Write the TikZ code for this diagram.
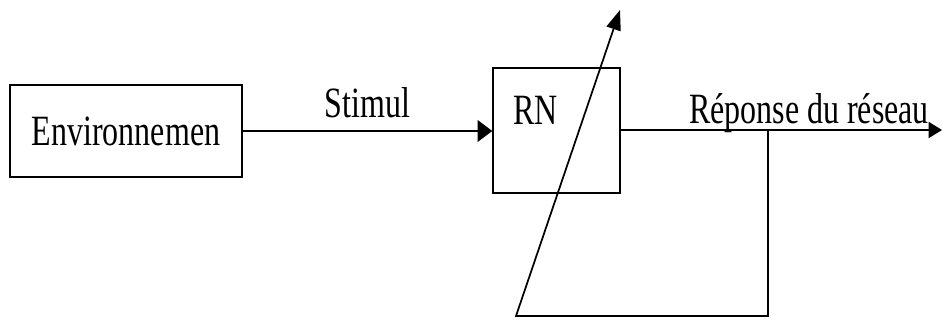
\documentclass[tikz,border=0pt]{standalone}
\usepackage{fontspec}
\setmainfont{Liberation Serif}
\usetikzlibrary{positioning, calc, arrows.meta}
\newcommand{\tallbox}[1]{\scalebox{1}[1.35]{#1}}
\tikzset{
  block/.style={draw, line width=1.3pt, inner sep=0pt},
  lbl/.style={font=\fontsize{24}{28}\selectfont, inner sep=0pt},
  flow/.style={line width=1.3pt},
}
\begin{document}
\begin{tikzpicture}[x=0.75pt, y=0.75pt]
  \useasboundingbox (0,0) rectangle (942,320);
  % blocks
  \node[block, lbl, minimum width=174pt, minimum height=69pt] (env) at (126,189) {\tallbox{Environnemen}};
  \node[block, minimum width=95pt, minimum height=94pt] (rn) at (556.5,189.5) {};
  \node[lbl, anchor=north west] (rnlabel) at ($(rn.north west)+(21,-29)$) {\tallbox{RN}};

  % input
  \draw[flow, line width=1.9pt, -{Triangle[length=11pt,width=16pt]}] (env.east) -- (env.east -| rn.west)
    node[midway, above=9pt, lbl] (stim) {\tallbox{Stimul}};

  % output
  \coordinate (outend) at (942,190);
  \draw[flow, -{Triangle[length=10pt,width=12pt]}] (rn.east |- outend) -- (outend);
  \node[lbl, anchor=base] (resp) at (809,196) {\tallbox{Réponse du réseau}};

  % feedback
  \coordinate (branch) at (768,190);
  \coordinate (start) at (516,4);
  \coordinate (tip) at (620,310);
  \draw[flow, -{Triangle[length=15pt,width=11pt]}] (branch) |- (start) -- (tip);
\end{tikzpicture}
\end{document}
